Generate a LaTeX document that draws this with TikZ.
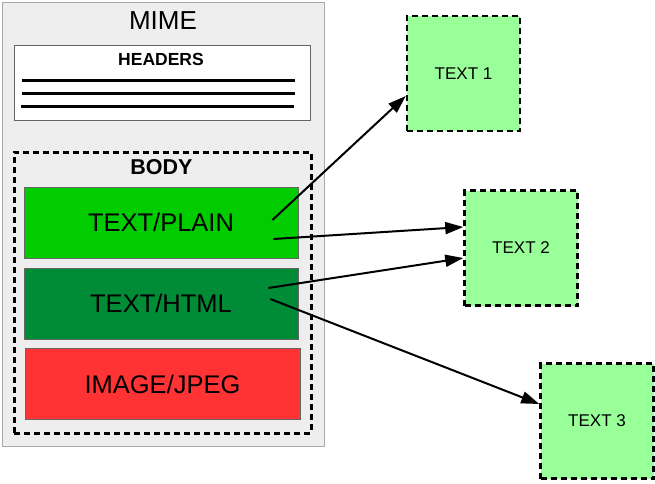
\documentclass[tikz,border=0pt]{standalone}
\usepackage{fontspec}
\setmainfont{Liberation Sans}
\usetikzlibrary{arrows.meta}
\definecolor{mimegray}{HTML}{EEEEEE}
\definecolor{mimeborder}{HTML}{AAAAAA}
\definecolor{plaingreen}{HTML}{00CC00}
\definecolor{htmlgreen}{HTML}{008C36}
\definecolor{jpegred}{HTML}{FF3333}
\definecolor{lightgreen}{HTML}{99FF99}
\tikzset{
  part/.style={draw=black!60, line width=0.8pt, minimum width=274pt, minimum height=71pt, inner sep=0pt, font=\fontsize{25.5}{28}\selectfont},
  textbox/.style={draw=black, fill=lightgreen, line width=2.5pt, dash pattern=on 6pt off 4pt, minimum width=113pt, minimum height=115pt, inner sep=0pt, font=\fontsize{17}{20}\selectfont},
  conn/.style={line width=2pt, -{Triangle[length=18pt,width=12pt]}},
  hline/.style={line width=3pt}
}
\begin{document}
\begin{tikzpicture}[x=1pt,y=-1pt]
\useasboundingbox (0,0) rectangle (655,483);
\node[draw=mimeborder, fill=mimegray, line width=1pt, minimum width=322pt, minimum height=444pt, inner sep=0pt] (mime) at (163,224) {};
\node[font=\fontsize{26}{28}\selectfont] (mimelabel) at (163,21) {MIME};
\node[draw=black!60, fill=white, line width=1pt, minimum width=296pt, minimum height=75pt, inner sep=0pt] (headers) at (162,82.5) {};
\node[font=\bfseries\fontsize{17.5}{20}\selectfont] (headerslabel) at (161,59) {HEADERS};
\draw[hline] (22,80) -- (295,80);
\draw[hline] (22,93) -- (295,93);
\draw[hline] (21,106) -- (294,106);
\node[draw=black, line width=3pt, dash pattern=on 6pt off 4pt, minimum width=297pt, minimum height=281pt, inner sep=0pt] (body) at (162.5,292.5) {};
\node[font=\bfseries\fontsize{21.5}{24}\selectfont] (bodylabel) at (161.5,167.5) {BODY};
\node[part, fill=plaingreen] (plain) at (161,222.5) {TEXT/PLAIN};
\node[part, fill=htmlgreen] (html) at (161,303.5) {TEXT/HTML};
\node[part, fill=jpegred, minimum width=275pt] (jpeg) at (162.5,384) {IMAGE/JPEG};
\node[textbox] (t1) at (463.5,73.5) {TEXT 1};
\node[textbox] (t2) at (521,248) {TEXT 2};
\node[textbox] (t3) at (597,421) {TEXT 3};
\draw[conn] ([xshift=-26pt,yshift=2.5pt]plain.east) -- ([yshift=-22.5pt]t1.west);
\draw[conn] ([xshift=-25pt,yshift=-16.5pt]plain.east) -- ([yshift=21pt]t2.west);
\draw[conn] ([xshift=-30pt,yshift=15.5pt]html.east) -- ([yshift=-10pt]t2.west);
\draw[conn] ([xshift=-28pt,yshift=4.5pt]html.east) -- ([yshift=17pt]t3.west);
\end{tikzpicture}
\end{document}
